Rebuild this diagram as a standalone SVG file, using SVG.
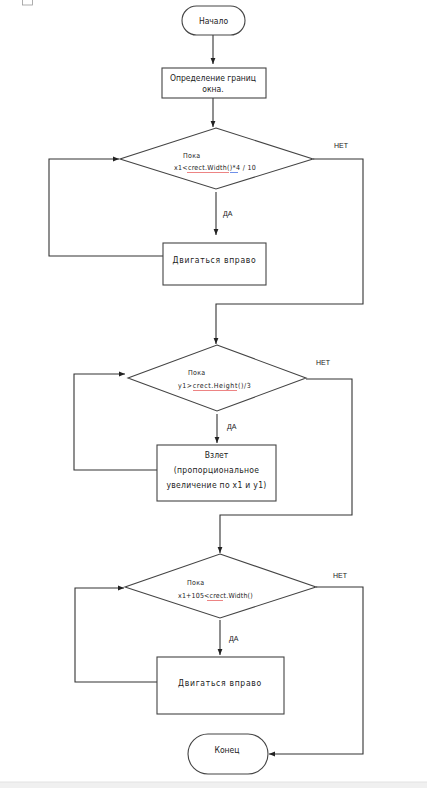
<svg xmlns="http://www.w3.org/2000/svg" width="427" height="788" viewBox="0 0 427 788">
<defs>
<style>
.sh{fill:#fff;stroke:#444;stroke-width:1.1}
.ln{fill:none;stroke:#333;stroke-width:1.1}
.t{font-family:"DejaVu Sans Condensed","DejaVu Sans","Liberation Sans",sans-serif;fill:#222;font-size:8.5px}
.s{font-family:"DejaVu Sans Condensed","DejaVu Sans","Liberation Sans",sans-serif;fill:#222;font-size:7px;letter-spacing:0.3px}
.lb{font-family:"Liberation Sans",Arial,sans-serif;fill:#222;font-size:7px}
.sq{fill:none;stroke:#e03030;stroke-width:0.6}
</style>
<marker id="ar" viewBox="0 0 10 10" refX="10" refY="5" markerWidth="6" markerHeight="6" orient="auto" markerUnits="userSpaceOnUse">
<path d="M0,1 L10,5 L0,9 z" fill="#222"/>
</marker>
</defs>
<rect x="0" y="0" width="427" height="788" fill="#fff"/>
<rect x="22.5" y="-1" width="10" height="6" fill="#fff" stroke="#999" stroke-width="0.8"/>
<rect x="0" y="782" width="427" height="6" fill="#f0f0f0"/>
<line x1="0" y1="782" x2="427" y2="782" stroke="#e2e2e2" stroke-width="1"/>

<g id="connectors">
<path class="ln" d="M213,35 V64" marker-end="url(#ar)"/>
<path class="ln" d="M213,98 V127" marker-end="url(#ar)"/>
<path class="ln" d="M216,192 V235" marker-end="url(#ar)"/>
<path class="ln" d="M163,256 H49 V159 H119" marker-end="url(#ar)"/>
<path class="ln" d="M313,159 H363 V304 H216 V344" marker-end="url(#ar)"/>
<path class="ln" d="M217,414 V443" marker-end="url(#ar)"/>
<path class="ln" d="M157,470 H74 V374 H125" marker-end="url(#ar)"/>
<path class="ln" d="M306,379 H352 V515 H220 V553" marker-end="url(#ar)"/>
<path class="ln" d="M220,620 V655" marker-end="url(#ar)"/>
<path class="ln" d="M157,682 H75 V588 H124" marker-end="url(#ar)"/>
<path class="ln" d="M316,587 H363 V754 H269" marker-end="url(#ar)"/>
<text class="lb" x="334" y="148">НЕТ</text>
<text class="lb" x="223" y="216">ДА</text>
<text class="lb" x="316" y="365">НЕТ</text>
<text class="lb" x="227" y="429">ДА</text>
<text class="lb" x="333" y="578">НЕТ</text>
<text class="lb" x="229" y="641">ДА</text>
</g>

<g id="start">
<rect class="sh" x="182" y="6" width="63" height="29" rx="14.5"/>
<text class="t" x="213.5" y="23.5" text-anchor="middle" font-size="9.5">Начало</text>
</g>

<g id="bounds">
<rect class="sh" x="162" y="68" width="104" height="30"/>
<text class="t" x="213" y="81" text-anchor="middle" font-size="7.5">Определение границ</text>
<text class="t" x="213" y="92" text-anchor="middle" font-size="7.5">окна.</text>
</g>

<g id="cond1">
<polygon class="sh" points="216,128 313,159 216,189 120,159"/>
<text class="s" x="183" y="158">Пока</text>
<text class="s" x="174" y="170" textLength="82" lengthAdjust="spacing">x1&lt;crect.Width()*4 / 10</text>
<path class="sq" d="M187,172 l1,1 1,-1 1,1 1,-1 1,1 1,-1 1,1 1,-1 1,1 1,-1 1,1 1,-1 1,1 1,-1 1,1 1,-1 1,1 1,-1 1,1 1,-1 1,1 1,-1 1,1 1,-1 1,1 1,-1 1,1 1,-1 1,1 1,-1 1,1 1,-1 1,1 1,-1 1,1 1,-1 1,1 1,-1 1,1 1,-1 1,1 1,-1"/>
<line x1="230" y1="172.5" x2="238" y2="172.5" stroke="#3060e0" stroke-width="0.7"/>
</g>

<g id="move1">
<rect class="sh" x="163" y="243" width="103" height="42"/>
<text class="t" x="214.5" y="263" text-anchor="middle" font-size="9" letter-spacing="0.7">Двигаться вправо</text>
</g>

<g id="cond2">
<polygon class="sh" points="217,345 306,378 217,411 128,378"/>
<text class="s" x="188" y="375">Пока</text>
<text class="s" x="178" y="388" textLength="73" lengthAdjust="spacing">y1&gt;crect.Height()/3</text>
<path class="sq" d="M193,390 l1,1 1,-1 1,1 1,-1 1,1 1,-1 1,1 1,-1 1,1 1,-1 1,1 1,-1 1,1 1,-1 1,1 1,-1 1,1 1,-1 1,1 1,-1 1,1 1,-1 1,1 1,-1 1,1 1,-1 1,1 1,-1 1,1 1,-1 1,1 1,-1 1,1 1,-1 1,1 1,-1 1,1 1,-1 1,1 1,-1 1,1 1,-1 1,1 1,-1"/>
</g>

<g id="takeoff">
<rect class="sh" x="157" y="445" width="119" height="56"/>
<text class="t" x="216.5" y="458" text-anchor="middle" font-size="8.5">Взлет</text>
<text class="t" x="216.5" y="473" text-anchor="middle" font-size="8.5" letter-spacing="0.3">(пропорциональное</text>
<text class="t" x="216.5" y="488" text-anchor="middle" font-size="8.5" letter-spacing="0.3">увеличение по x1 и y1)</text>
</g>

<g id="cond3">
<polygon class="sh" points="220,554 316,587 220,618 125,587"/>
<text class="s" x="187" y="585">Пока</text>
<text class="s" x="178" y="598" textLength="75" lengthAdjust="spacing">x1+105&lt;crect.Width()</text>
<path class="sq" d="M207,600 l1,1 1,-1 1,1 1,-1 1,1 1,-1 1,1 1,-1 1,1 1,-1 1,1 1,-1 1,1 1,-1 1,1 1,-1"/>
</g>

<g id="move2">
<rect class="sh" x="157" y="657" width="127" height="57"/>
<text class="t" x="220" y="686" text-anchor="middle" font-size="9" letter-spacing="0.7">Двигаться вправо</text>
</g>

<g id="end">
<rect class="sh" x="188" y="734" width="80" height="40" rx="20"/>
<text class="t" x="227" y="753" text-anchor="middle" font-size="9.5">Конец</text>
</g>
</svg>
